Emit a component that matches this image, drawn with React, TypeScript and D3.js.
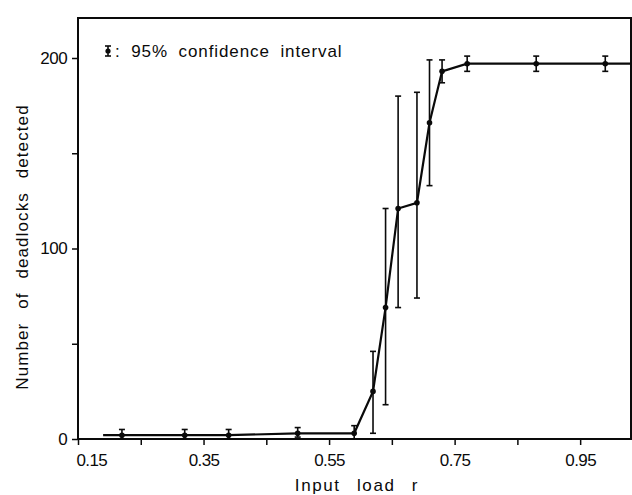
import React, { useRef, useEffect } from "react";
import * as d3 from "d3";

// input load r (first and last entries only carry the line to the frame)
const loads = [0.19, 0.22, 0.32, 0.39, 0.5, 0.59, 0.62, 0.64, 0.66, 0.69, 0.71, 0.73, 0.77, 0.88, 0.99, 1.03];
// number of deadlocks detected
const counts = [2, 2, 2, 2, 3, 3, 25, 69, 121, 124, 166, 193, 197, 197, 197, 197];
// 95% confidence interval
const lower = [null, 0, 0, 0, 1, 0, 3, 18, 69, 74, 133, 187, 193, 193, 193, null];
const upper = [null, 5, 5, 5, 6, 7, 46, 121, 180, 182, 199, 199, 201, 201, 201, null];

const xTicks = [0.15, 0.25, 0.35, 0.45, 0.55, 0.65, 0.75, 0.85, 0.95];
const xLabels = [0.15, 0.35, 0.55, 0.75, 0.95];
const yTicks = [0, 50, 100, 150, 200];
const yLabels = [0, 100, 200];

const W = 632, H = 495;
const FONT = "'Liberation Sans', Arial, sans-serif";
const INK = "#0a0a0a";

function App() {
  const svgRef = useRef<SVGSVGElement>(null);

  useEffect(() => {
    const svg = d3.select(svgRef.current);
    svg.selectAll("*").remove();

    const x = d3.scaleLinear().domain([0.15, 1.031]).range([78, 631]);
    const y = d3.scaleLinear().domain([0, 221]).range([439, 18]);

    const xAxis = d3.axisBottom(x)
      .tickValues(xTicks)
      .tickSize(6)
      .tickFormat(d => (xLabels.includes(+d) ? d3.format(".2f")(+d) : ""));
    const yAxis = d3.axisLeft(y)
      .tickValues(yTicks)
      .tickSize(6)
      .tickFormat(d => (yLabels.includes(+d) ? String(d) : ""));

    const gx = svg.append("g").attr("transform", `translate(0,${y(0)})`).call(xAxis);
    gx.select(".domain").remove();
    gx.selectAll("line").attr("stroke", INK).attr("stroke-width", 1.5);
    gx.selectAll("text")
      .attr("font-family", FONT).attr("font-size", 17).attr("fill", INK)
      .attr("dy", "1.05em").attr("letter-spacing", -0.6);
    gx.selectAll<SVGTextElement, number>("text")
      .filter(d => d === 0.15)
      .attr("text-anchor", "start").attr("dx", -2);

    const gy = svg.append("g").attr("transform", `translate(${x(0.15)},0)`).call(yAxis);
    gy.select(".domain").remove();
    gy.selectAll("line").attr("stroke", INK).attr("stroke-width", 1.5);
    gy.selectAll("text")
      .attr("font-family", FONT).attr("font-size", 17).attr("fill", INK)
      .attr("letter-spacing", -0.4).attr("dx", "-0.1em");

    // frame
    svg.append("rect")
      .attr("x", x(0.15)).attr("y", y(221))
      .attr("width", x(1.031) - x(0.15)).attr("height", y(0) - y(221))
      .attr("fill", "none").attr("stroke", INK).attr("stroke-width", 2);

    const pts = loads.map((l, i) => ({ l, c: counts[i], lo: lower[i], hi: upper[i] }));

    // error bars
    const eb = pts.filter(p => p.lo !== null);
    const g = svg.append("g").attr("stroke", INK).attr("stroke-width", 1.6);
    eb.forEach(p => {
      g.append("line").attr("x1", x(p.l)).attr("x2", x(p.l)).attr("y1", y(p.lo!)).attr("y2", y(p.hi!));
      g.append("line").attr("x1", x(p.l) - 3).attr("x2", x(p.l) + 3).attr("y1", y(p.lo!)).attr("y2", y(p.lo!));
      g.append("line").attr("x1", x(p.l) - 3).attr("x2", x(p.l) + 3).attr("y1", y(p.hi!)).attr("y2", y(p.hi!));
    });

    const ln = d3.line<{ l: number; c: number }>().x(d => x(d.l)).y(d => y(d.c));
    svg.append("path").datum(pts).attr("d", ln)
      .attr("fill", "none").attr("stroke", INK).attr("stroke-width", 2.2);

    svg.append("g").selectAll("circle").data(eb).join("circle")
      .attr("cx", d => x(d.l)).attr("cy", d => y(d.c)).attr("r", 2.8).attr("fill", INK);

    // legend
    const lx = 108, ly = 51;
    svg.append("line").attr("x1", lx).attr("x2", lx).attr("y1", ly - 5).attr("y2", ly + 5)
      .attr("stroke", INK).attr("stroke-width", 1.6);
    [ly - 5, ly + 5].forEach(yy =>
      svg.append("line").attr("x1", lx - 3).attr("x2", lx + 3).attr("y1", yy).attr("y2", yy)
        .attr("stroke", INK).attr("stroke-width", 1.6));
    svg.append("circle").attr("cx", lx).attr("cy", ly).attr("r", 2.6).attr("fill", INK);
    svg.append("text").attr("x", 115).attr("y", 57)
      .attr("font-family", FONT).attr("font-size", 17).attr("fill", INK)
      .attr("letter-spacing", 0.9).attr("word-spacing", 5)
      .text(": 95%  confidence interval");

    // axis titles
    svg.append("text")
      .attr("transform", `translate(28,${247}) rotate(-90)`)
      .attr("text-anchor", "middle")
      .attr("font-family", FONT).attr("font-size", 17).attr("fill", INK)
      .attr("letter-spacing", 1.1).attr("word-spacing", 8)
      .text("Number of deadlocks detected");
    svg.append("text")
      .attr("x", 357).attr("y", 491).attr("text-anchor", "middle")
      .attr("font-family", FONT).attr("font-size", 17).attr("fill", INK)
      .attr("letter-spacing", 1.6).attr("word-spacing", 10)
      .text("Input load r");
  }, []);

  return (
    <svg
      ref={svgRef}
      width={W}
      height={H}
      style={{ position: "absolute", left: 0, top: 0, background: "#fff" }}
    />
  );
}

export default App;
